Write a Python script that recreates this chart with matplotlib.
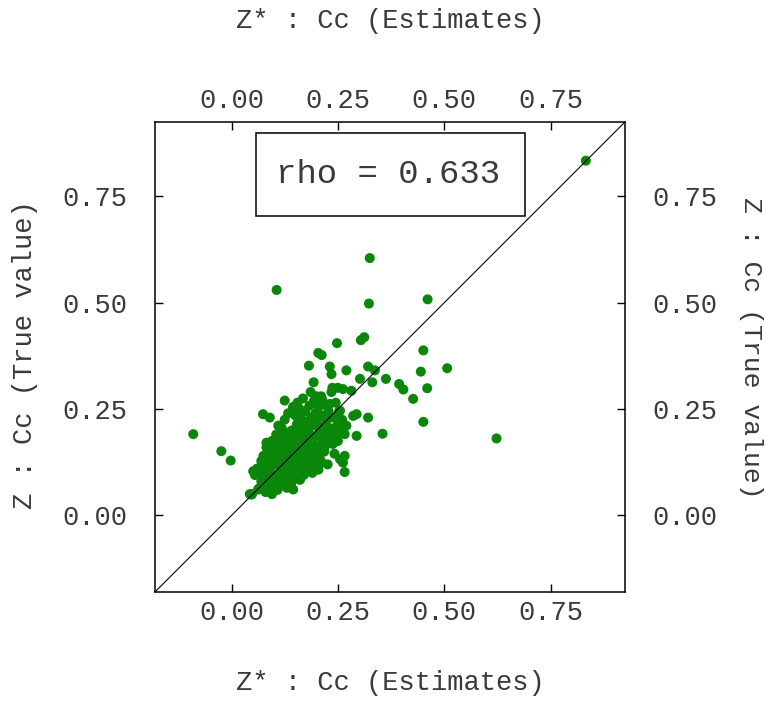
import matplotlib
matplotlib.use("Agg")
import matplotlib.pyplot as plt
from matplotlib.patches import Rectangle
import numpy as np

# estimate (x) vs true value (y) pairs for Cc
sparse_x = [0.833, 0.325, 0.106, 0.323, 0.461, 0.248, 0.304, 0.312, 0.204, 0.212,
            0.182, 0.231, 0.235, 0.270, 0.321, 0.337, 0.302, 0.331, 0.363, 0.193,
            0.237, 0.250, 0.262, 0.186, 0.200, 0.213, 0.282, 0.451, 0.507, 0.445,
            0.394, 0.404, 0.460, 0.427, 0.451, 0.321, 0.355, 0.623, -0.090, -0.024,
            -0.002, 0.047, 0.063, 0.145, 0.266, 0.255, 0.266, 0.262, 0.294, 0.266,
            0.286, 0.294, 0.255, 0.074, 0.090, 0.110, 0.125, 0.145, 0.082, 0.051,
            0.074, 0.090, 0.106, 0.043, 0.067, 0.204, 0.212, 0.161, 0.231, 0.231,
            0.270, 0.231]
sparse_y = [0.834, 0.605, 0.530, 0.498, 0.508, 0.405, 0.412, 0.419, 0.382, 0.377,
            0.352, 0.350, 0.332, 0.341, 0.350, 0.341, 0.321, 0.313, 0.321, 0.313,
            0.300, 0.300, 0.297, 0.290, 0.280, 0.272, 0.293, 0.388, 0.346, 0.338,
            0.309, 0.296, 0.299, 0.274, 0.220, 0.230, 0.192, 0.181, 0.191, 0.151,
            0.129, 0.049, 0.061, 0.061, 0.102, 0.132, 0.140, 0.124, 0.187, 0.191,
            0.234, 0.238, 0.246, 0.238, 0.230, 0.211, 0.270, 0.254, 0.171, 0.104,
            0.128, 0.112, 0.080, 0.050, 0.065, 0.108, 0.124, 0.084, 0.175, 0.190,
            0.211, 0.262]

core_x = [0.048, 0.063, 0.070, 0.078, 0.085, 0.090, 0.095, 0.100, 0.102, 0.108,
          0.110, 0.112, 0.115, 0.118, 0.120, 0.122, 0.125, 0.127, 0.130, 0.132,
          0.135, 0.136, 0.138, 0.140, 0.142, 0.144, 0.146, 0.148, 0.150, 0.152,
          0.154, 0.155, 0.157, 0.158, 0.160, 0.162, 0.163, 0.165, 0.166, 0.168,
          0.170, 0.171, 0.173, 0.175, 0.176, 0.178, 0.180, 0.182, 0.183, 0.185,
          0.187, 0.188, 0.190, 0.192, 0.194, 0.195, 0.197, 0.199, 0.200, 0.202,
          0.204, 0.205, 0.207, 0.209, 0.211, 0.212, 0.214, 0.216, 0.218, 0.220,
          0.222, 0.224, 0.226, 0.228, 0.230, 0.232, 0.235, 0.237, 0.240, 0.242,
          0.245, 0.248, 0.250, 0.253, 0.256, 0.260,
          0.060, 0.070, 0.075, 0.082, 0.088, 0.095, 0.100, 0.105, 0.108, 0.114,
          0.118, 0.125, 0.128, 0.133, 0.145, 0.150, 0.155, 0.160, 0.168,
          0.080, 0.090, 0.095, 0.105, 0.115, 0.125, 0.130, 0.140, 0.150, 0.160,
          0.170, 0.180, 0.190, 0.200,
          0.055, 0.062, 0.072, 0.080, 0.088, 0.092, 0.098, 0.104, 0.112, 0.120,
          0.158, 0.172, 0.185, 0.196, 0.210, 0.222, 0.234, 0.246, 0.178, 0.192,
          0.206, 0.143, 0.166, 0.218, 0.238]
core_y = [0.050, 0.062, 0.080, 0.095, 0.070, 0.105, 0.088, 0.120, 0.075, 0.060,
          0.098, 0.135, 0.112, 0.150, 0.085, 0.125, 0.170, 0.100, 0.140, 0.115,
          0.185, 0.155, 0.095, 0.128, 0.200, 0.168, 0.145, 0.110, 0.180, 0.135,
          0.215, 0.160, 0.122, 0.195, 0.150, 0.230, 0.175, 0.138, 0.205, 0.100,
          0.188, 0.160, 0.245, 0.220, 0.128, 0.175, 0.200, 0.145, 0.258, 0.190,
          0.230, 0.115, 0.165, 0.212, 0.270, 0.140, 0.240, 0.185, 0.222, 0.155,
          0.108, 0.255, 0.200, 0.130, 0.280, 0.235, 0.175, 0.210, 0.150, 0.260,
          0.190, 0.225, 0.120, 0.245, 0.170, 0.205, 0.290, 0.185, 0.230, 0.145,
          0.265, 0.210, 0.175, 0.245, 0.195, 0.225,
          0.110, 0.128, 0.140, 0.160, 0.150, 0.175, 0.160, 0.190, 0.145, 0.180,
          0.205, 0.225, 0.195, 0.240, 0.255, 0.235, 0.265, 0.250, 0.275,
          0.055, 0.065, 0.050, 0.085, 0.070, 0.078, 0.065, 0.075, 0.090, 0.084,
          0.095, 0.105, 0.100, 0.120,
          0.095, 0.100, 0.090, 0.110, 0.125, 0.085, 0.140, 0.130, 0.160, 0.105,
          0.118, 0.132, 0.150, 0.162, 0.165, 0.178, 0.192, 0.205, 0.122, 0.135,
          0.148, 0.100, 0.112, 0.158, 0.168]

x = np.array(sparse_x + core_x)
y = np.array(sparse_y + core_y)
rho = 0.633

lims = (-0.18, 0.925)
ticks = [0.00, 0.25, 0.50, 0.75]
tick_labels = ["0.00", "0.25", "0.50", "0.75"]
xlabel = "Z* : Cc (Estimates)"
ylabel = "Z : Cc (True value)"

plt.rcParams["font.family"] = ["Liberation Mono", "DejaVu Sans Mono"]
txt = "#3a3a3a"

fig = plt.figure(figsize=(7.66, 7.07), dpi=100)
ax = fig.add_axes([0.2023, 0.1627, 0.6136, 0.6648])

ax.scatter(x, y, s=52, color="#0a870a", edgecolors="none", zorder=3)
# 1:1 reference line, drawn over the points
ax.plot(lims, lims, color="black", lw=0.8, zorder=4)

ax.set_xlim(lims)
ax.set_ylim(lims)
ax.set_xticks(ticks, tick_labels)
ax.set_yticks(ticks, tick_labels)
for s in ax.spines.values():
    s.set_linewidth(1.1)

ax.tick_params(axis="both", direction="in", length=6, width=1,
               top=True, right=True, labelsize=19.5, labelcolor=txt)
ax.tick_params(axis="x", labeltop=True, pad=6)
ax.tick_params(axis="y", labelright=True, pad=20)

# correlation box
ax.add_patch(Rectangle((0.215, 0.80), 0.572, 0.177, transform=ax.transAxes,
                       fill=False, edgecolor="black", lw=1.1, zorder=5))
ax.text(0.495, 0.888, f"rho = {rho:.3f}", transform=ax.transAxes,
        ha="center", va="center", fontsize=24.5, color=txt, zorder=6)

fig.text(0.509, 0.971, xlabel, ha="center", va="center", fontsize=19.5, color=txt)
fig.text(0.509, 0.034, xlabel, ha="center", va="center", fontsize=19.5, color=txt)
fig.text(0.033, 0.498, ylabel, ha="center", va="center", rotation=90,
         fontsize=19.5, color=txt)
fig.text(0.980, 0.508, ylabel, ha="center", va="center", rotation=-90,
         fontsize=19, color=txt)

fig.savefig("out.png", dpi=100, facecolor="white")
